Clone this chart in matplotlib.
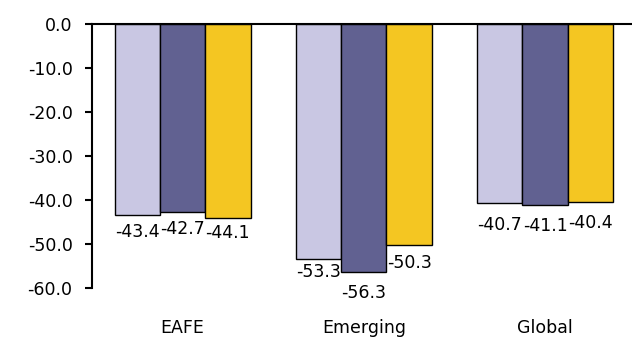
import numpy as np
import matplotlib
matplotlib.use("Agg")
import matplotlib.pyplot as plt

plt.rcParams['font.family'] = ['DejaVu Sans']
plt.rcParams['axes.unicode_minus'] = False

categories = ['EAFE', 'Emerging', 'Global']
series_a = [-43.4, -53.3, -40.7]
series_b = [-42.7, -56.3, -41.1]
series_c = [-44.1, -50.3, -40.4]
yticks = [0, -10, -20, -30, -40, -50, -60]

colors = ['#c9c7e3', '#616191', '#f4c622']
# gap (points) between the bar end and its value label, per series / group
label_gaps = [[6, 3, 9], [6, 9, 9], [4, 6, 9]]

fig = plt.figure(figsize=(6.32, 3.41), dpi=100)
ax = fig.add_axes([0.1456, 0.1554, 0.8544, 0.7742])

x = np.arange(len(categories))
width = 0.25
for k, vals in enumerate([series_a, series_b, series_c]):
    pos = x + (k - 1) * width
    ax.bar(pos, vals, width, color=colors[k], edgecolor='black', linewidth=1.0, zorder=2)
    for i, v in enumerate(vals):
        ax.annotate(f'{v:.1f}', (pos[i], v), xytext=(0, -label_gaps[k][i]),
                    textcoords='offset points', ha='center', va='top', fontsize=12.5)

ax.set_ylim(-60, 0)
ax.set_xlim(-0.5, 2.48)
ax.set_yticks(yticks)
ax.set_yticklabels([f'{t:.1f}' for t in yticks])
ax.set_xticks(x)
ax.set_xticklabels(categories)

for side in ['right', 'bottom']:
    ax.spines[side].set_visible(False)
ax.spines['left'].set_linewidth(1.5)
ax.spines['top'].set_linewidth(1.5)
ax.tick_params(axis='y', length=5, width=1.5, pad=9, labelsize=12.5)
ax.tick_params(axis='x', length=0, pad=22, labelsize=12.5)

fig.savefig('out.png', dpi=100)
